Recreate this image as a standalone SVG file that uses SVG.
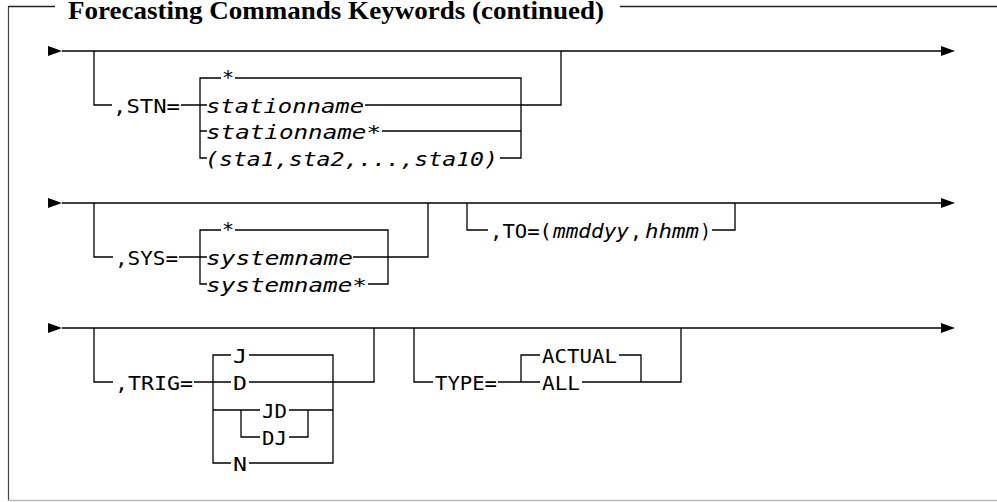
<svg xmlns="http://www.w3.org/2000/svg" width="997" height="502" viewBox="0 0 997 502">
<style>
.l{fill:none;stroke:#000;stroke-width:1.3}
.t{font-family:"DejaVu Sans Mono","Liberation Mono",monospace;font-size:20px;fill:#000}
.i{font-style:italic}
.ttl{font-family:"Liberation Serif","Times New Roman",serif;font-weight:bold;font-size:26px;fill:#000}
</style>
<defs>
<marker id="s" markerUnits="userSpaceOnUse" viewBox="0 0 14 10" refX="14" refY="5" markerWidth="14" markerHeight="10" orient="auto"><path d="M0,0 L14,5 L0,10 z" fill="#000"/></marker>
<marker id="e" markerUnits="userSpaceOnUse" viewBox="0 0 14 10" refX="0" refY="5" markerWidth="14" markerHeight="10" orient="auto"><path d="M0,0 L14,5 L0,10 z" fill="#000"/></marker>
</defs>
<rect width="997" height="502" fill="#fff"/>
<g id="frame">
<path d="M8.5,6.5 V501" stroke="#444" stroke-width="1.2" fill="none"/>
<path d="M8,6.5 H55 M620,6.5 H997" stroke="#222" stroke-width="1.3" fill="none"/>
<path d="M8,500.5 H997" stroke="#b8b8b8" stroke-width="1.5" fill="none"/>
</g>
<g id="title"><text class="ttl" x="68" y="19" textLength="536" lengthAdjust="spacingAndGlyphs">Forecasting Commands Keywords (continued)</text></g>
<g id="connectors">
<path class="l" d="M62,51 H941" marker-start="url(#s)" marker-end="url(#e)"/>
<path class="l" d="M62,203 H941" marker-start="url(#s)" marker-end="url(#e)"/>
<path class="l" d="M62,328 H941" marker-start="url(#s)" marker-end="url(#e)"/>
<path class="l" d="M94,51 V105 H112 M181,105 H207 M221,78 H200 V158 H207 M200,131 H207 M235,78 H521 V158 H500 M365,105 H561 V51 M382,131 H521"/>
<path class="l" d="M94,203 V257 H113 M179,257 H207 M221,230 H200 V284 H207 M235,230 H388 V284 H368 M353,257 H428 V203"/>
<path class="l" d="M467,203 V230 H488 M712,230 H735 V203"/>
<path class="l" d="M94,328 V382 H113 M194,382 H231 M231,355 H213 V463 H231 M213,410 H260 M241,410 V437 H260 M249,355 H333 V463 H249 M249,382 H374 V328 M289,410 H333 M289,437 H308 V410"/>
<path class="l" d="M414,328 V382 H433 M498,382 H540 M540,355 H521 V382 M619,355 H641 V382 M582,382 H681 V328"/>
</g>
<g id="stn">
<text class="t" x="113" y="112.5" textLength="67" lengthAdjust="spacingAndGlyphs">,STN=</text>
<text class="t" x="228" y="84" text-anchor="middle">*</text>
<text class="t i" x="206" y="112.5" textLength="158" lengthAdjust="spacingAndGlyphs">stationname</text>
<text class="t i" x="206" y="138.5" textLength="175" lengthAdjust="spacingAndGlyphs">stationname*</text>
<text class="t i" x="205" y="165.5" textLength="293" lengthAdjust="spacingAndGlyphs">(sta1,sta2,...,sta10)</text>
</g>
<g id="sys">
<text class="t" x="115" y="264.5" textLength="63" lengthAdjust="spacingAndGlyphs">,SYS=</text>
<text class="t" x="228" y="236" text-anchor="middle">*</text>
<text class="t i" x="206" y="264.5" textLength="147" lengthAdjust="spacingAndGlyphs">systemname</text>
<text class="t i" x="206" y="291.5" textLength="161" lengthAdjust="spacingAndGlyphs">systemname*</text>
</g>
<g id="to">
<text class="t" x="490" y="237.5" textLength="62" lengthAdjust="spacingAndGlyphs">,TO=(</text>
<text class="t i" x="553" y="237.5" textLength="76" lengthAdjust="spacingAndGlyphs">mmddyy</text>
<text class="t" x="630" y="237.5" textLength="12" lengthAdjust="spacingAndGlyphs">,</text>
<text class="t i" x="645" y="237.5" textLength="54" lengthAdjust="spacingAndGlyphs">hhmm</text>
<text class="t" x="700" y="237.5" textLength="11" lengthAdjust="spacingAndGlyphs">)</text>
</g>
<g id="trig">
<text class="t" x="115" y="389.5" textLength="78" lengthAdjust="spacingAndGlyphs">,TRIG=</text>
<text class="t" x="233" y="362.5" textLength="14" lengthAdjust="spacingAndGlyphs">J</text>
<text class="t" x="233" y="389.5" textLength="14" lengthAdjust="spacingAndGlyphs">D</text>
<text class="t" x="262" y="417.5" textLength="25" lengthAdjust="spacingAndGlyphs">JD</text>
<text class="t" x="262" y="444.5" textLength="25" lengthAdjust="spacingAndGlyphs">DJ</text>
<text class="t" x="233" y="470.5" textLength="14" lengthAdjust="spacingAndGlyphs">N</text>
</g>
<g id="type">
<text class="t" x="435" y="389.5" textLength="62" lengthAdjust="spacingAndGlyphs">TYPE=</text>
<text class="t" x="542" y="362.5" textLength="75" lengthAdjust="spacingAndGlyphs">ACTUAL</text>
<text class="t" x="542" y="389.5" textLength="38" lengthAdjust="spacingAndGlyphs">ALL</text>
</g>
</svg>
